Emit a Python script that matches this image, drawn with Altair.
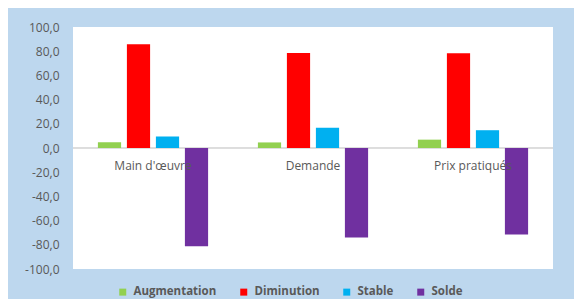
import altair as alt
import pandas as pd

categories = ["Main d'œuvre", "Demande", "Prix pratiqués"]
series = ["Augmentation", "Diminution", "Stable", "Solde"]
augmentation = [4.7, 4.6, 6.9]
diminution = [85.8, 78.6, 78.4]
stable = [9.5, 16.8, 14.7]
solde = [-81.1, -74.0, -71.5]
colors = ["#92D050", "#FF0000", "#00B0F0", "#7030A0"]
y_ticks = list(range(-100, 101, 20))

rows = []
for i, c in enumerate(categories):
    for s, vals in zip(series, [augmentation, diminution, stable, solde]):
        rows.append({"cat": c, "serie": s, "value": vals[i]})
df = pd.DataFrame(rows)
lab = pd.DataFrame({"cat": categories})

FONT = "Open Sans"
GRAY = "#595959"

xscale = alt.Scale(domain=categories, paddingInner=0.275, paddingOuter=0.1375)
yscale = alt.Scale(domain=[-100, 100], nice=False)
yaxis = alt.Axis(values=y_ticks, grid=False, domain=False, ticks=False,
                 labelOverlap=False, labelBound=False,
                 labelPadding=14, labelFont=FONT, labelFontSize=12,
                 labelColor=GRAY, title=None,
                 labelExpr="(datum.value < 0 ? '-' : '') + replace(format(abs(datum.value), '.1f'), '.', ',')")

zero = alt.Chart(lab).mark_rule(color="#d9d9d9", strokeWidth=1).encode(
    y=alt.Y(datum=0, scale=yscale, axis=yaxis, title=None)
)

bars = alt.Chart(df).mark_bar().encode(
    x=alt.X("cat:N", scale=xscale, sort=categories, axis=None),
    xOffset=alt.XOffset("serie:N", sort=series,
                        scale=alt.Scale(domain=series, paddingInner=0.2, paddingOuter=0.1)),
    y=alt.Y("value:Q", scale=yscale, title=None, axis=yaxis),
    color=alt.Color("serie:N", sort=series,
                    scale=alt.Scale(domain=series, range=colors),
                    legend=alt.Legend(title=None, orient="none", direction="horizontal",
                                      legendX=44, legendY=259,
                                      symbolType="square", symbolSize=49,
                                      symbolStrokeWidth=0, labelOffset=5,
                                      columnPadding=21,
                                      labelFont=FONT, labelFontSize=11.5,
                                      labelFontWeight="bold", labelColor=GRAY)),
)

texts = alt.Chart(lab).mark_text(dy=18, baseline="middle", fontSize=12,
                                 color=GRAY, font=FONT).encode(
    x=alt.X("cat:N", scale=xscale, sort=categories, axis=None),
    y=alt.Y(datum=0, axis=yaxis, title=None),
    text="cat:N",
)

chart = alt.layer(zero, bars, texts).properties(
    width=480, height=242,
    padding={"left": 65, "top": 19, "right": 21, "bottom": 30},
    autosize=alt.AutoSizeParams(type="none"),
    background="#BDD7EE",
).configure_view(fill="white", stroke=None).configure_axisY(labelOverlap=False)

chart.save("out.html", embed_options={"renderer": "svg", "actions": False})
